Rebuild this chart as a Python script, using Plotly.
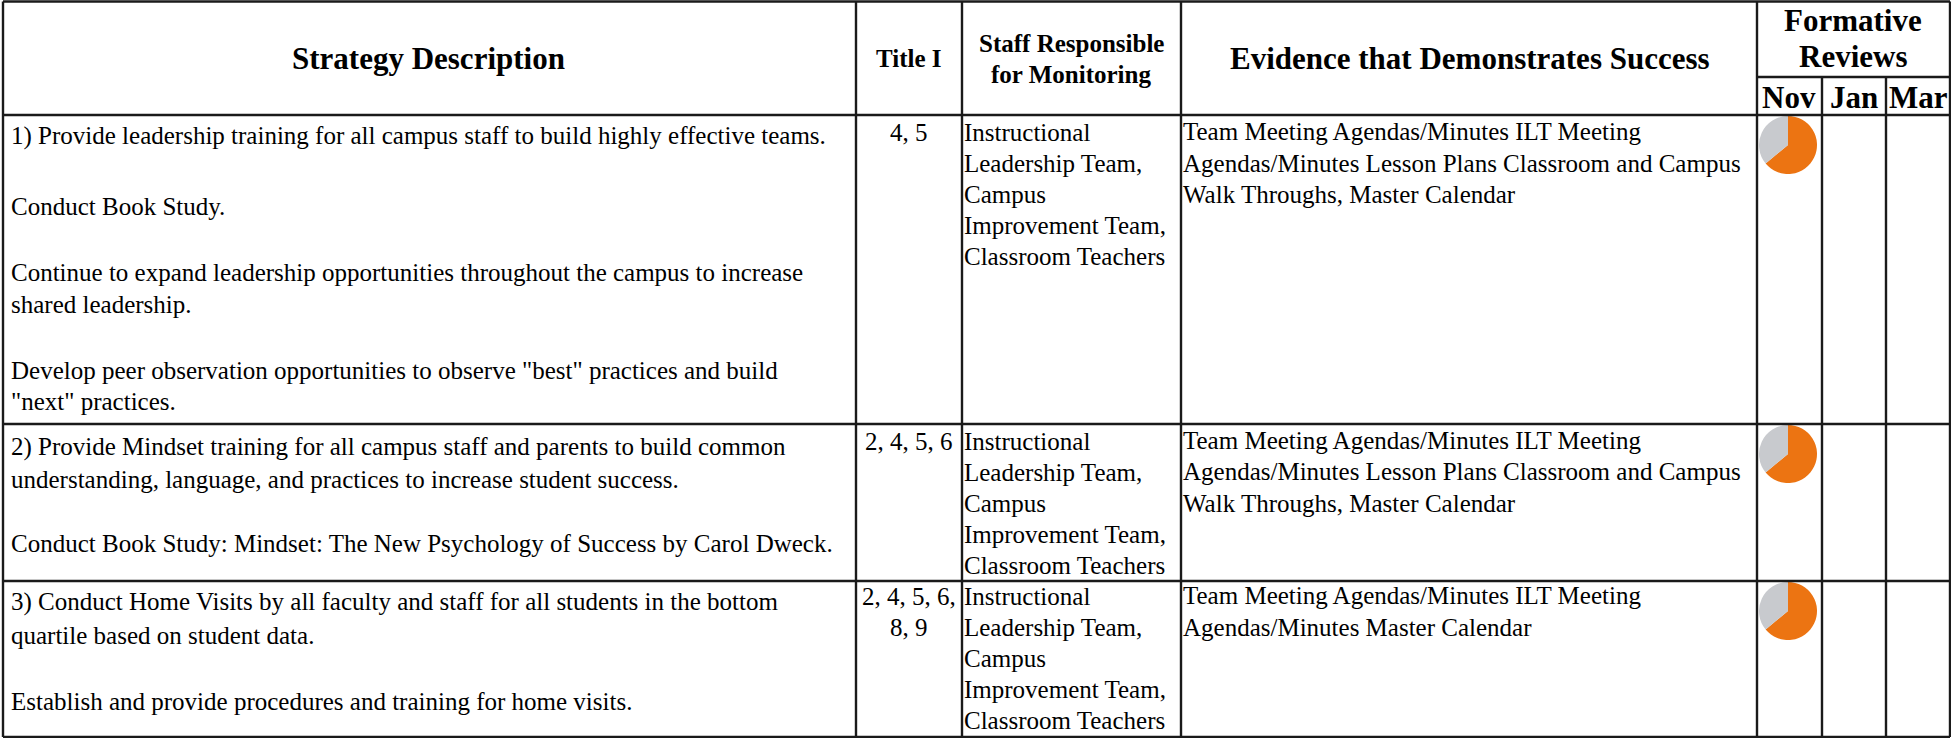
import plotly.graph_objects as go

W, H = 1951, 738
SERIF = "Liberation Serif"

# ---- table content ----
months = ["Nov", "Jan", "Mar"]
strategy_lines = [
    "1) Provide leadership training for all campus staff to build highly effective teams.",
    "Conduct Book Study.",
    "Continue to expand leadership opportunities throughout the campus to increase",
    "shared leadership.",
    "Develop peer observation opportunities to observe \"best\" practices and build",
    "\"next\" practices.",
    "2) Provide Mindset training for all campus staff and parents to build common",
    "understanding, language, and practices to increase student success.",
    "Conduct Book Study: Mindset: The New Psychology of Success by Carol Dweck.",
    "3) Conduct Home Visits by all faculty and staff for all students in the bottom",
    "quartile based on student data.",
    "Establish and provide procedures and training for home visits.",
]
title_lines = ["4, 5", "2, 4, 5, 6", "2, 4, 5, 6,", "8, 9"]
staff_lines = ["Instructional", "Leadership Team,", "Campus", "Improvement Team,", "Classroom Teachers"]
evidence_long = [
    "Team Meeting Agendas/Minutes ILT Meeting",
    "Agendas/Minutes Lesson Plans Classroom and Campus",
    "Walk Throughs, Master Calendar",
]
evidence_short = ["Team Meeting Agendas/Minutes ILT Meeting", "Agendas/Minutes Master Calendar"]
review_done = [64, 64, 64]
review_left = [36, 36, 36]

# ---- layout (pixel grid of the page) ----
strategy_y = [136, 206, 272, 304, 370, 401, 447, 479, 543, 602, 635, 701]
title_y = [132, 441, 596, 627]
staff_row_y = [132, 441, 596]
evidence_long_y = [[131, 163, 194], [440, 471, 503]]
evidence_short_y = [595, 627]
pie_y = [145, 454, 611]
pie_x, pie_r = 1788, 29
col_x = [3, 856, 962, 1181, 1757, 1950]
sub_x = [1822, 1886]
row_y = [1.5, 115, 424, 581, 737]
BODY, HEAD_L = 25, 31

shapes, notes = [], []


def line(x0, y0, x1, y1, w=2.4):
    shapes.append(dict(type="line", x0=x0, y0=y0, x1=x1, y1=y1, xref="x", yref="y",
                       line=dict(color="#1a1a1a", width=w)))


def text(x, y, s, size=BODY, bold=False, anchor="left"):
    notes.append(dict(x=x, y=y, xref="x", yref="y", text=f"<b>{s}</b>" if bold else s,
                      showarrow=False, xanchor=anchor, yanchor="middle",
                      align=anchor, borderpad=0,
                      font=dict(family=SERIF, size=size, color="#000000")))


for x in col_x:
    line(x, row_y[0], x, row_y[-1])
for x in sub_x:
    line(x, 77, x, row_y[-1])
for y in row_y:
    line(col_x[0], y, col_x[-1], y)
line(col_x[4], 77, col_x[5], 77)

text(428, 58, "Strategy Description", HEAD_L, True, "center")
text(909, 58, "Title I", 25, True, "center")
text(1071, 43, "Staff Responsible", 25, True, "center")
text(1071, 74, "for Monitoring", 25, True, "center")
text(1470, 58, "Evidence that Demonstrates Success", HEAD_L, True, "center")
text(1853, 20, "Formative", HEAD_L, True, "center")
text(1853, 56, "Reviews", HEAD_L, True, "center")
for cx, m in zip([1789, 1854, 1918], months):
    text(cx, 97, m, HEAD_L, True, "center")

for y, s in zip(strategy_y, strategy_lines):
    text(10, y, s)
for y, s in zip(title_y, title_lines):
    text(909, y, s, anchor="center")
for y0 in staff_row_y:
    for i, s in enumerate(staff_lines):
        text(963, y0 + i * 31.2, s)
for ys in evidence_long_y:
    for y, s in zip(ys, evidence_long):
        text(1182, y, s)
for y, s in zip(evidence_short_y, evidence_short):
    text(1182, y, s)

fig = go.Figure()
fig.add_trace(go.Scatter(x=[0, W], y=[0, H], mode="markers", marker=dict(opacity=0),
                         hoverinfo="skip", showlegend=False))
for y, done, left in zip(pie_y, review_done, review_left):
    fig.add_trace(go.Pie(
        values=[done, left], sort=False, direction="clockwise", rotation=0,
        marker=dict(colors=["#EC7412", "#C8CACE"], line=dict(width=0)),
        textinfo="none", hoverinfo="skip", showlegend=False,
        domain=dict(x=[(pie_x - pie_r) / W, (pie_x + pie_r) / W],
                    y=[1 - (y + pie_r) / H, 1 - (y - pie_r) / H]),
    ))

fig.update_layout(
    width=W, height=H, margin=dict(l=0, r=0, t=0, b=0),
    paper_bgcolor="white", plot_bgcolor="white", showlegend=False,
    xaxis=dict(range=[0, W], visible=False, fixedrange=True),
    yaxis=dict(range=[H, 0], visible=False, fixedrange=True),
    shapes=shapes, annotations=notes,
)
fig.write_html("out.html", config=dict(displayModeBar=False),
               post_script="document.body.style.margin='0';document.body.style.overflow='hidden';")
